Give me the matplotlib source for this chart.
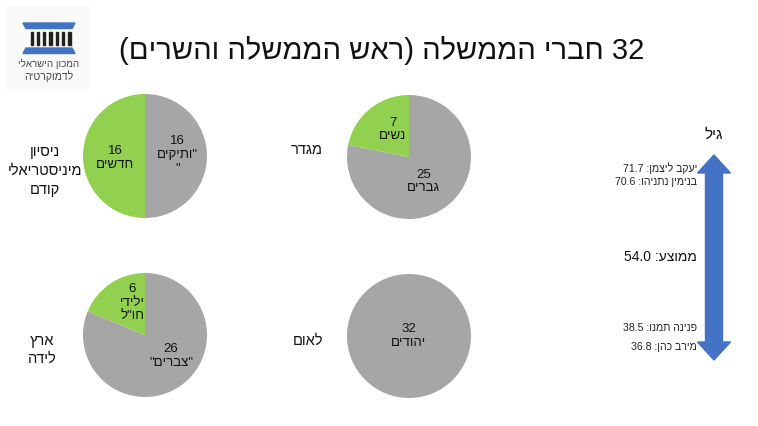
import re
import matplotlib.pyplot as plt
from matplotlib.patches import Polygon, Rectangle

plt.rcParams['font.family'] = ['Liberation Sans', 'DejaVu Sans']

# data
title = '32 חברי הממשלה (ראש הממשלה והשרים)'

experience_vals = [16, 16]
experience_names = ['"ותיקים\n"', 'חדשים']
gender_vals = [25, 7]
gender_names = ['גברים', 'נשים']
birth_vals = [26, 6]
birth_names = ['"צברים"', 'ילידי\nחו"ל']
nation_vals = [32]
nation_names = ['יהודים']

age_names = ['יעקב ליצמן', 'בנימין נתניהו', 'פנינה תמנו', 'מירב כהן']
age_vals = [71.7, 70.6, 38.5, 36.8]
age_mean = 54.0

GRAY = '#A6A6A6'
GREEN = '#92D050'
BLUE = '#4472C4'

W, H = 758, 426


def vis(s):
    # poor man's bidi: reverse each line, keep numbers left-to-right, mirror brackets
    out = []
    for line in s.split('\n'):
        r = line[::-1]
        r = re.sub(r'[0-9.]+', lambda m: m.group(0)[::-1], r)
        r = r.translate(str.maketrans('()', ')('))
        out.append(r)
    return '\n'.join(out)


fig = plt.figure(figsize=(W / 100, H / 100), dpi=100)
bg = fig.add_axes([0, 0, 1, 1])
bg.set_xlim(0, W)
bg.set_ylim(H, 0)
bg.axis('off')

# logo
bg.add_patch(Rectangle((6, 6), 82, 82, color='#F9F9F7', zorder=0))
bg.add_patch(Polygon([(23, 23), (75, 23), (72, 28.5), (26, 28.5)], color=BLUE))
bg.add_patch(Polygon([(26, 48), (72, 48), (75, 53.5), (23, 53.5)], color=BLUE))
for i in range(7):
    bg.add_patch(Rectangle((30.5 + i * 6.3, 32), 2.2, 13, color='#222222'))
bg.text(49, 64, vis('המכון הישראלי'), ha='center', va='center', fontsize=7, color='#444444')
bg.text(49, 76, vis('לדמוקרטיה'), ha='center', va='center', fontsize=7.6, color='#444444')

bg.text(382, 50, vis(title), ha='center', va='center', fontsize=21, color='#111111')


def pie(cx, cy, vals, names, label_pos, r=62):
    ax = fig.add_axes([(cx - r) / W, 1 - (cy + r) / H, 2 * r / W, 2 * r / H])
    colors = [GRAY, GREEN][:len(vals)]
    ax.pie(vals, colors=colors, startangle=90, counterclock=False,
           wedgeprops=dict(linewidth=0))
    ax.set_xlim(-1, 1)
    ax.set_ylim(-1, 1)
    for v, n, (lx, ly) in zip(vals, names, label_pos):
        ax.text(lx, ly, f'{v}\n' + vis(n), ha='center', va='center',
                fontsize=9.5, color='#111111', linespacing=1.15)
    return ax


pie(145, 156, experience_vals, experience_names, [(0.52, 0.02), (-0.48, -0.03)])
pie(409, 157, gender_vals, gender_names, [(0.23, -0.40), (-0.26, 0.44)])
pie(145, 335, birth_vals, birth_names, [(0.42, -0.34), (-0.21, 0.52)])
pie(409, 336, nation_vals, nation_names, [(0.0, 0.0)])

cat_kw = dict(va='center', fontsize=10.5, color='#111111', multialignment='center')
bg.text(45, 171, vis('ניסיון\nמיניסטריאלי\nקודם'), ha='center', linespacing=1.45, **cat_kw)
bg.text(323, 150, vis('מגדר'), ha='right', **cat_kw)
bg.text(42, 350, vis('ארץ\nלידה'), ha='center', linespacing=1.3, **cat_kw)
bg.text(323, 341, vis('לאום'), ha='right', **cat_kw)

# age arrow
ax_x, top, bot = 714, 155, 360
shaft, head_w, head_l = 17, 33, 18
bg.add_patch(Polygon([
    (ax_x, top), (ax_x + head_w / 2, top + head_l), (ax_x + shaft / 2, top + head_l),
    (ax_x + shaft / 2, bot - head_l), (ax_x + head_w / 2, bot - head_l), (ax_x, bot),
    (ax_x - head_w / 2, bot - head_l), (ax_x - shaft / 2, bot - head_l),
    (ax_x - shaft / 2, top + head_l), (ax_x - head_w / 2, top + head_l)], color=BLUE))
bg.text(714, 135, vis('גיל'), ha='center', va='center', fontsize=11, color='#111111')


def age_y(a):
    # linear age scale along the arrow
    return 168 + (71.7 - a) * 5.13


nudge = [0, 8, -10, 0]
for n, a, d in zip(age_names, age_vals, nudge):
    bg.text(697, age_y(a) + d, vis(f'{n}: {a:.1f}'), ha='right', va='center',
            fontsize=7.6, color='#222222')
bg.text(697, age_y(age_mean) - 2, vis(f'ממוצע: {age_mean:.1f}'), ha='right', va='center',
        fontsize=10, color='#111111')

fig.savefig('out.png', dpi=100, facecolor='white')
